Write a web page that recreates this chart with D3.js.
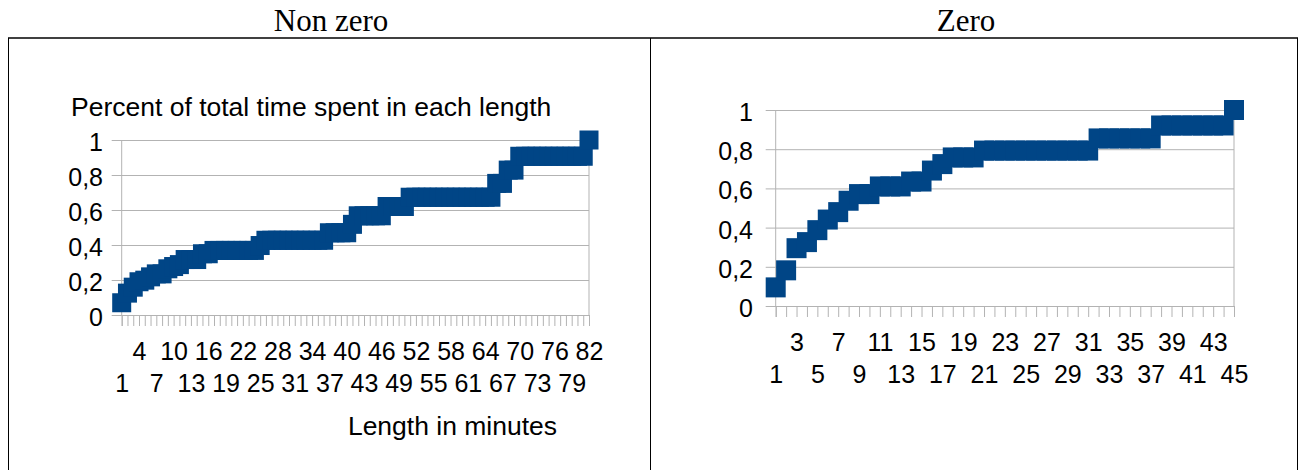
<!DOCTYPE html>
<html>
<head>
<meta charset="utf-8">
<script src="https://cdn.jsdelivr.net/npm/d3@7"></script>
<style>
  html, body { margin: 0; padding: 0; background: #fff; }
  svg { display: block; }
  .tick text { font-family: "Liberation Sans", Arial, sans-serif; fill: #000; }
</style>
</head>
<body>
<svg id="chart" width="1303" height="470"></svg>
<script>
// Cumulative share of time, by length in minutes (1..82) - non-zero sessions
const nonZeroCategories = d3.range(1, 83);
const nonZeroValues = [
  0.07, 0.125, 0.159, 0.19, 0.199, 0.218, 0.235, 0.235, 0.264, 0.277,
  0.288, 0.317, 0.317, 0.317, 0.35, 0.35, 0.369, 0.369, 0.369, 0.369,
  0.369, 0.369, 0.369, 0.369, 0.397, 0.427, 0.427, 0.427, 0.427, 0.427,
  0.427, 0.427, 0.427, 0.427, 0.427, 0.427, 0.47, 0.47, 0.47, 0.47,
  0.518, 0.567, 0.567, 0.567, 0.567, 0.567, 0.62, 0.62, 0.62, 0.62,
  0.673, 0.673, 0.673, 0.673, 0.673, 0.673, 0.673, 0.673, 0.673, 0.673,
  0.673, 0.673, 0.673, 0.673, 0.673, 0.752, 0.752, 0.828, 0.828, 0.907,
  0.907, 0.907, 0.907, 0.907, 0.907, 0.907, 0.907, 0.907, 0.907, 0.907,
  0.907, 1.0
];
// Labelled categories, staggered over two rows
const nonZeroTopLabels = [4, 10, 16, 22, 28, 34, 40, 46, 52, 58, 64, 70, 76, 82];
const nonZeroBottomLabels = [1, 7, 13, 19, 25, 31, 37, 43, 49, 55, 61, 67, 73, 79];

// Cumulative share of time, by length in minutes (1..45) - zero sessions
const zeroCategories = d3.range(1, 46);
const zeroValues = [
  0.095, 0.182, 0.295, 0.326, 0.387, 0.441, 0.479, 0.537, 0.571, 0.571,
  0.61, 0.61, 0.61, 0.635, 0.635, 0.691, 0.724, 0.758, 0.758, 0.758,
  0.793, 0.793, 0.793, 0.793, 0.793, 0.793, 0.793, 0.793, 0.793, 0.793,
  0.793, 0.855, 0.855, 0.855, 0.855, 0.855, 0.855, 0.921, 0.921, 0.921,
  0.921, 0.921, 0.921, 0.921, 1.0
];
const zeroTopLabels = [3, 7, 11, 15, 19, 23, 27, 31, 35, 39, 43];
const zeroBottomLabels = [1, 5, 9, 13, 17, 21, 25, 29, 33, 37, 41, 45];

const yTickValues = [0, 0.2, 0.4, 0.6, 0.8, 1];
const yTickLabels = ["0", "0,2", "0,4", "0,6", "0,8", "1"];

const SERIES_COLOR = "#004586";
const GRID_COLOR = "#b3b3b3";
const SANS = '"Liberation Sans", Arial, sans-serif';
const SERIF = '"Liberation Serif", "Times New Roman", serif';

const svg = d3.select("#chart");

// Table frame holding the two charts
const frame = svg.append("g").attr("stroke", "#000").attr("fill", "none");
frame.append("line").attr("x1", 8).attr("x2", 1298).attr("y1", 38).attr("y2", 38).attr("stroke-width", 1.5);
[8.5, 650.5, 1297.5].forEach(x => {
  frame.append("line").attr("x1", x).attr("x2", x).attr("y1", 38).attr("y2", 470).attr("stroke-width", 1);
});

svg.append("text").attr("x", 331).attr("y", 31).attr("text-anchor", "middle")
  .style("font-family", SERIF).style("font-size", "31px").text("Non zero");
svg.append("text").attr("x", 966).attr("y", 31).attr("text-anchor", "middle")
  .style("font-family", SERIF).style("font-size", "31px").text("Zero");

function drawChart(cfg) {
  const g = svg.append("g");
  const x = d3.scalePoint().domain(cfg.categories).range([cfg.x0, cfg.x1]).padding(0);
  const y = d3.scaleLinear().domain([0, 1]).range([cfg.y0, cfg.y1]);
  const labelOf = d => yTickLabels[yTickValues.indexOf(d)];

  // Horizontal gridlines (extending left as outer ticks)
  g.append("g")
    .attr("transform", `translate(${cfg.x1},0)`)
    .call(d3.axisLeft(y).tickValues(yTickValues).tickSize(cfg.x1 - cfg.x0 + 10).tickFormat(""))
    .call(a => a.select(".domain").remove())
    .call(a => a.selectAll(".tick line").attr("stroke", GRID_COLOR));

  // Y axis labels
  g.append("g")
    .attr("transform", `translate(${cfg.yLabelRight},0)`)
    .call(d3.axisLeft(y).tickValues(yTickValues).tickSize(0).tickPadding(0).tickFormat(labelOf))
    .call(a => a.select(".domain").remove())
    .call(a => a.selectAll(".tick text").attr("dy", "0.42em").style("font-size", cfg.fontSize + "px"));

  // Vertical axis lines: left axis and right edge
  [cfg.x0, cfg.x1].forEach(px => {
    g.append("line").attr("x1", px).attr("x2", px).attr("y1", y(1)).attr("y2", y(0))
      .attr("stroke", GRID_COLOR);
  });

  // Category tick marks
  g.append("g")
    .attr("transform", `translate(0,${cfg.y0})`)
    .call(d3.axisBottom(x).tickSize(11).tickFormat(""))
    .call(a => a.select(".domain").attr("stroke", GRID_COLOR))
    .call(a => a.selectAll(".tick line").attr("stroke", GRID_COLOR));

  // Category labels in two staggered rows
  [[cfg.topLabels, cfg.topBaseline], [cfg.bottomLabels, cfg.bottomBaseline]].forEach(([vals, base]) => {
    g.append("g")
      .attr("transform", `translate(0,${base})`)
      .call(d3.axisBottom(x).tickValues(vals).tickSize(0).tickPadding(0))
      .call(a => a.select(".domain").remove())
      .call(a => a.selectAll(".tick text").attr("y", 0).attr("dy", null)
        .style("font-size", cfg.fontSize + "px"));
  });

  // Square markers
  const s = cfg.marker;
  g.append("g").selectAll("rect")
    .data(cfg.values.map((v, i) => ({ c: cfg.categories[i], v })))
    .join("rect")
    .attr("x", d => x(d.c) - s / 2)
    .attr("y", d => y(d.v) - s / 2)
    .attr("width", s)
    .attr("height", s)
    .attr("fill", SERIES_COLOR);

  return g;
}

const left = drawChart({
  categories: nonZeroCategories, values: nonZeroValues,
  topLabels: nonZeroTopLabels, bottomLabels: nonZeroBottomLabels,
  x0: 121.7, x1: 589, y0: 315, y1: 140,
  yLabelRight: 103, topBaseline: 360, bottomBaseline: 391.5,
  marker: 19, fontSize: 25
});
left.append("text").attr("x", 71).attr("y", 116)
  .style("font-family", SANS).style("font-size", "26.5px")
  .text("Percent of total time spent in each length");
left.append("text").attr("x", 452.5).attr("y", 435).attr("text-anchor", "middle")
  .style("font-family", SANS).style("font-size", "26.5px")
  .text("Length in minutes");

drawChart({
  categories: zeroCategories, values: zeroValues,
  topLabels: zeroTopLabels, bottomLabels: zeroBottomLabels,
  x0: 775.7, x1: 1234, y0: 306, y1: 110,
  yLabelRight: 753, topBaseline: 351, bottomBaseline: 383,
  marker: 20, fontSize: 25
});
</script>
</body>
</html>
